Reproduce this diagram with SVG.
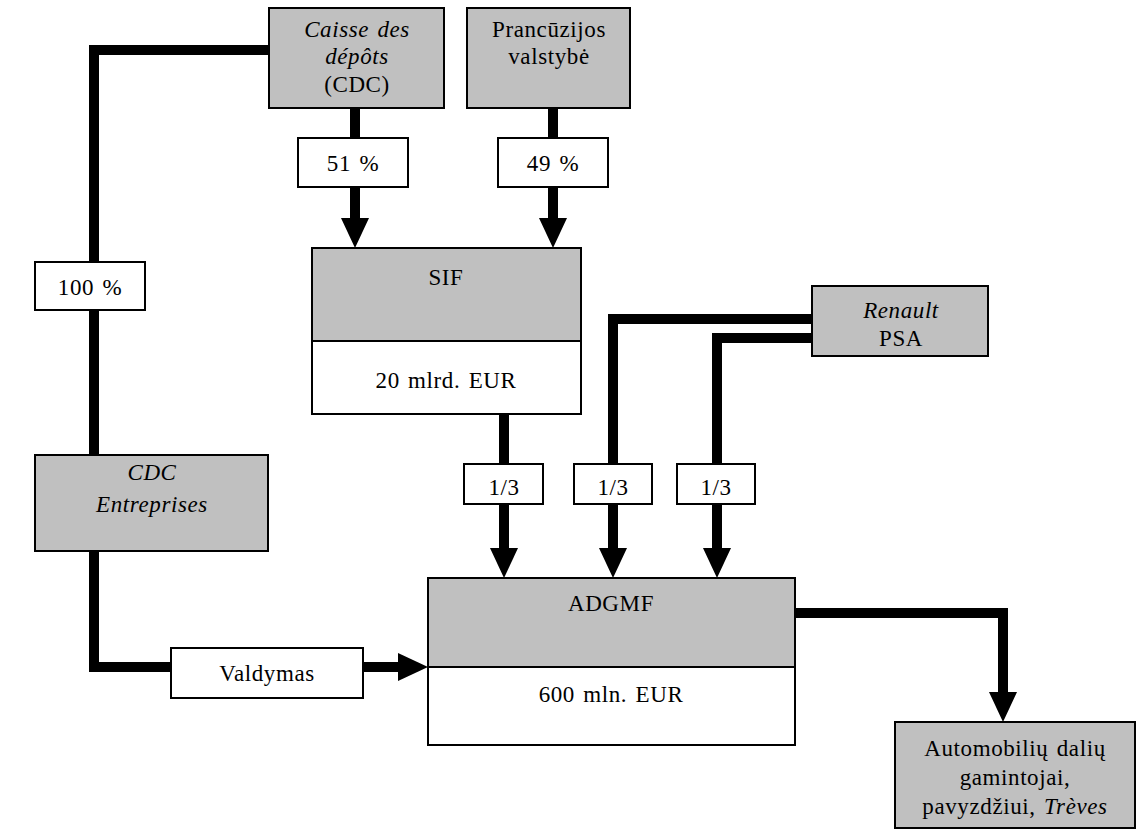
<svg xmlns="http://www.w3.org/2000/svg" width="1144" height="833" viewBox="0 0 1144 833">
<style>
.g{fill:#c0c0c0;stroke:#000;stroke-width:2}
.w{fill:#fff;stroke:#000;stroke-width:2}
.c{fill:none;stroke:#000;stroke-width:10;stroke-linejoin:miter}
text{font-family:"Liberation Serif","DejaVu Serif",serif;font-size:23px;letter-spacing:0.6px;word-spacing:2px;text-anchor:middle;fill:#000}
.i{font-style:italic}
</style>
<defs>
<marker id="ah" viewBox="0 0 30 28" refX="2" refY="14" markerWidth="30" markerHeight="28" markerUnits="userSpaceOnUse" orient="auto">
<path d="M0,0 L30,14 L0,28 Z" fill="#000"/>
</marker>
</defs>
<g id="connectors">
<path class="c" d="M269,50 H94 V455"/>
<path class="c" d="M94,551 V667 H171"/>
<path class="c" d="M363,667 H400" marker-end="url(#ah)"/>
<path class="c" d="M355,108 V220" marker-end="url(#ah)"/>
<path class="c" d="M553,108 V220" marker-end="url(#ah)"/>
<path class="c" d="M504,414 V550" marker-end="url(#ah)"/>
<path class="c" d="M812,319 H613 V550" marker-end="url(#ah)"/>
<path class="c" d="M812,338 H717 V550" marker-end="url(#ah)"/>
<path class="c" d="M795,613 H1003 V694" marker-end="url(#ah)"/>
</g>
<g id="cdc">
<rect class="g" x="269" y="8" width="175" height="100"/>
<text x="357" y="37" class="i">Caisse des</text>
<text x="357" y="64" class="i">dépôts</text>
<text x="357" y="92">(CDC)</text>
</g>
<g id="valstybe">
<rect class="g" x="467" y="8" width="163" height="100"/>
<text x="549" y="37">Prancūzijos</text>
<text x="549" y="64">valstybė</text>
</g>
<g id="p51">
<rect class="w" x="298" y="138" width="110" height="49"/>
<text x="353" y="171">51 %</text>
</g>
<g id="p49">
<rect class="w" x="498" y="138" width="110" height="49"/>
<text x="553" y="171">49 %</text>
</g>
<g id="sif">
<rect class="g" x="312" y="248" width="269" height="93"/>
<rect class="w" x="312" y="341" width="269" height="73"/>
<text x="446" y="285">SIF</text>
<text x="446" y="388">20 mlrd. EUR</text>
</g>
<g id="p100">
<rect class="w" x="35" y="262" width="110" height="48"/>
<text x="90" y="295">100 %</text>
</g>
<g id="cdcent">
<rect class="g" x="35" y="455" width="233" height="96"/>
<text x="152" y="480" class="i">CDC</text>
<text x="152" y="512" class="i">Entreprises</text>
</g>
<g id="valdymas">
<rect class="w" x="171" y="648" width="192" height="50"/>
<text x="267" y="681">Valdymas</text>
</g>
<g id="renault">
<rect class="g" x="812" y="286" width="176" height="70"/>
<text x="901" y="318" class="i">Renault</text>
<text x="901" y="346">PSA</text>
</g>
<g id="t1">
<rect class="w" x="464" y="464" width="79" height="40"/>
<text x="504" y="495">1/3</text>
</g>
<g id="t2">
<rect class="w" x="574" y="464" width="78" height="40"/>
<text x="613" y="495">1/3</text>
</g>
<g id="t3">
<rect class="w" x="677" y="464" width="78" height="40"/>
<text x="716" y="495">1/3</text>
</g>
<g id="adgmf">
<rect class="g" x="428" y="578" width="367" height="89"/>
<rect class="w" x="428" y="667" width="367" height="78"/>
<text x="611" y="611">ADGMF</text>
<text x="611" y="702">600 mln. EUR</text>
</g>
<g id="auto">
<rect class="g" x="895" y="722" width="240" height="106"/>
<text x="1015" y="756">Automobilių dalių</text>
<text x="1015" y="785">gamintojai,</text>
<text x="1015" y="814">pavyzdžiui, <tspan class="i">Trèves</tspan></text>
</g>
</svg>
